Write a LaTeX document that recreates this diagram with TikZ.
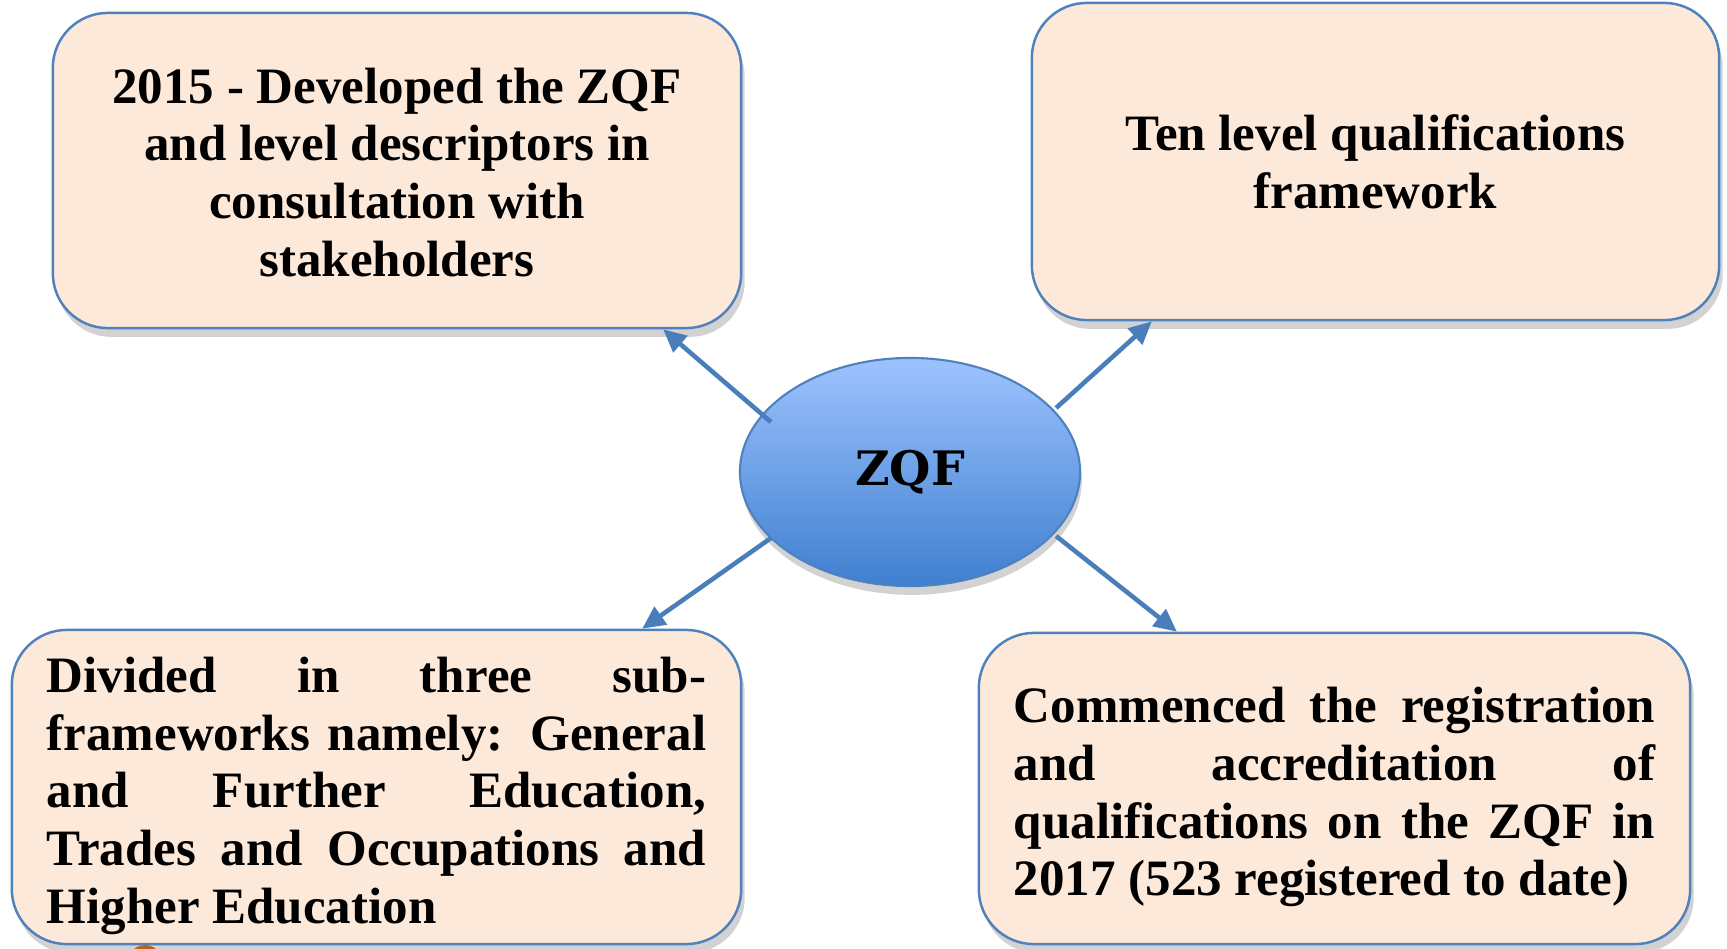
\documentclass[tikz,border=0pt]{standalone}
\usepackage{fontspec}
\setmainfont{Liberation Serif}
\newfontfamily\slabfont{DejaVu Serif}
\usetikzlibrary{shapes.geometric,shadows,arrows.meta}
\definecolor{boxfill}{HTML}{FDE9D9}
\definecolor{boxline}{HTML}{4F81BD}
\definecolor{arrowcol}{HTML}{4A7EBB}
\definecolor{elltop}{HTML}{9DC3FE}
\definecolor{ellbot}{HTML}{3F7FD0}
\definecolor{orangedot}{HTML}{E46C0A}
\tikzset{
  infobox/.style={draw=boxline, line width=0.7pt, fill=boxfill, rounded corners=0.55cm,
    inner sep=0pt, font=\bfseries\fontsize{14.5}{16.4}\selectfont,
    drop shadow={shadow xshift=1pt, shadow yshift=-2.5pt, opacity=0.25, fill=black!70}},
  hub/.style={ellipse, draw=boxline, line width=0.6pt, top color=elltop, bottom color=ellbot,
    minimum width=3.40cm, minimum height=2.28cm, inner sep=0pt,
    font=\slabfont\bfseries\fontsize{13.5}{15}\selectfont,
    drop shadow={shadow xshift=0.5pt, shadow yshift=-2.5pt, opacity=0.25, fill=black!70}},
  link/.style={draw=arrowcol, line width=1.3pt, -{Triangle[length=6.5pt,width=6pt]}}
}
\begin{document}
\begin{tikzpicture}[x=0.01cm,y=-0.01cm]
\useasboundingbox (0,0) rectangle (1727,948);
\clip (0,0) rectangle (1727,948);
\fill[white] (0,0) rectangle (1727,948);
% small orange disc peeking at bottom
\node[circle, fill=orangedot, minimum size=0.34cm, inner sep=0pt] (dot) at (145,962) {};
% boxes
\node[infobox, minimum width=6.88cm, minimum height=3.15cm, align=center] (tl) at (397,170.5)
  {\rule{0pt}{11pt}2015 - Developed the ZQF\\and level descriptors in\\consultation with\\stakeholders};
\node[infobox, minimum width=6.87cm, minimum height=3.17cm, align=center] (tr) at (1375.5,161.5)
  {Ten level qualifications\\framework};
\node[infobox, minimum width=7.29cm, minimum height=3.14cm, align=left] (bl) at (376.5,787)
  {\rule{0pt}{15pt}\makebox[6.59cm][s]{Divided in three sub-}\\
   \makebox[6.59cm][s]{frameworks namely: General}\\
   \makebox[6.59cm][s]{and Further Education,}\\
   \makebox[6.59cm][s]{Trades and Occupations and}\\
   \makebox[6.59cm][l]{Higher Education}};
\node[infobox, minimum width=7.11cm, minimum height=3.11cm, align=left] (br) at (1334.5,788.5)
  {\rule{0pt}{15pt}\makebox[6.41cm][s]{Commenced the registration}\\
   \makebox[6.41cm][s]{and accreditation of}\\
   \makebox[6.41cm][s]{qualifications on the ZQF in}\\
   \makebox[6.41cm][l]{2017 (523 registered to date)}};
% hub
\node[hub] (ell) at (910,472) {ZQF};
% connectors
\draw[link] ([shift={(-1.39cm,0.50cm)}]ell.center) -- ([xshift=2.66cm]tl.south);
\draw[link] ([shift={(1.46cm,0.64cm)}]ell.center) -- ([xshift=-2.235cm]tr.south);
\draw[link] ([shift={(-1.39cm,-0.66cm)}]ell.center) -- ([xshift=2.655cm]bl.north);
\draw[link] ([shift={(1.46cm,-0.64cm)}]ell.center) -- ([xshift=-1.575cm]br.north);
\end{tikzpicture}
\end{document}
